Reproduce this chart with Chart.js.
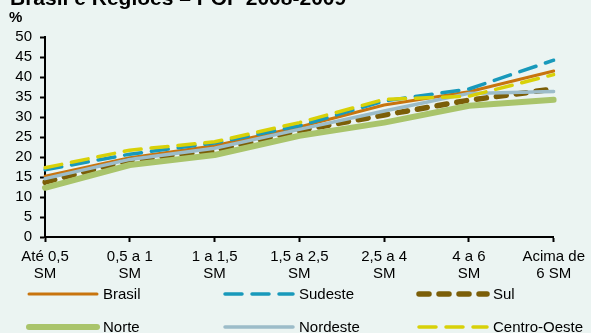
<!DOCTYPE html>
<html>
<head>
<meta charset="utf-8">
<script src="https://cdn.jsdelivr.net/npm/chart.js@4/dist/chart.umd.min.js"></script>
<style>
  html, body { margin: 0; padding: 0; background: #EBF4F2; }
  #wrap { width: 591px; height: 333px; position: relative; overflow: hidden; }
</style>
</head>
<body>
<div id="wrap"><canvas id="c" width="591" height="333"></canvas></div>
<script>
// Income brackets (multiples of the minimum wage)
const categories = [
  ['Até 0,5', 'SM'], ['0,5 a 1', 'SM'], ['1 a 1,5', 'SM'], ['1,5 a 2,5', 'SM'],
  ['2,5 a 4', 'SM'], ['4 a 6', 'SM'], ['Acima de', '6 SM']
];

// Share (%) per bracket
const brasil      = [15.2, 19.8, 22.8, 27.5, 33.0, 36.3, 41.5];
const sudeste     = [16.8, 20.7, 23.5, 27.8, 34.0, 37.0, 44.2];
const sul         = [13.7, 19.2, 21.5, 26.6, 30.5, 34.2, 37.0];
const norte       = [12.3, 18.0, 20.5, 25.3, 28.6, 32.8, 34.3];
const nordeste    = [14.6, 19.4, 22.2, 26.9, 31.5, 35.9, 36.4];
const centroOeste = [17.3, 21.7, 23.8, 28.6, 34.4, 35.2, 40.6];

const seriesNames = ['Brasil', 'Sudeste', 'Sul', 'Norte', 'Nordeste', 'Centro-Oeste'];
const yTicks = [0, 5, 10, 15, 20, 25, 30, 35, 40, 45, 50];

const titleText = 'Brasil e Regiões – POF 2008-2009';
const unitText = '%';

const FONT = '"Liberation Sans", Arial, sans-serif';

const styles = [
  { color: '#C8740E', width: 3,   dash: [],      cap: 'round' },
  { color: '#1899BB', width: 3.5, dash: [17, 10], cap: 'round' },
  { color: '#7B5E08', width: 5.5, dash: [10, 10], cap: 'round' },
  { color: '#A9C46B', width: 6,   dash: [],      cap: 'round' },
  { color: '#9CBCC9', width: 3.5, dash: [],      cap: 'round' },
  { color: '#D8D108', width: 3.5, dash: [17, 10], cap: 'round' }
];

const values = [brasil, sudeste, sul, norte, nordeste, centroOeste];

const datasets = seriesNames.map((name, i) => ({
  label: name,
  data: values[i],
  borderColor: styles[i].color,
  backgroundColor: styles[i].color,
  borderWidth: styles[i].width,
  borderDash: styles[i].dash,
  borderCapStyle: styles[i].cap,
  borderJoinStyle: 'round',
  pointRadius: 0,
  tension: 0,
  fill: false,
  // later series are painted over earlier ones
  order: seriesNames.length - i
}));

// Title, unit label and a three-column legend
const extras = {
  id: 'extras',
  afterDraw(chart) {
    const ctx = chart.ctx;
    ctx.save();
    ctx.fillStyle = '#000';
    ctx.textAlign = 'left';
    ctx.textBaseline = 'alphabetic';
    ctx.font = 'bold 21px ' + FONT;
    ctx.fillText(titleText, 10, 5);
    ctx.font = 'bold 15px ' + FONT;
    ctx.fillText(unitText, 9, 22);

    const colX = [27, 223, 417];
    const rowY = [294, 327];
    const sampleLen = 70;
    chart.data.datasets.forEach((ds, i) => {
      const x = colX[i % 3];
      const y = rowY[Math.floor(i / 3)];
      ctx.beginPath();
      ctx.strokeStyle = ds.borderColor;
      ctx.lineWidth = ds.borderWidth;
      ctx.lineCap = ds.borderCapStyle;
      ctx.setLineDash(ds.borderDash);
      ctx.moveTo(x + 2, y);
      ctx.lineTo(x + sampleLen, y);
      ctx.stroke();
      ctx.setLineDash([]);
      ctx.fillStyle = '#000';
      ctx.font = '15px ' + FONT;
      ctx.textBaseline = 'middle';
      ctx.fillText(ds.label, x + sampleLen + 6, y + 1);
    });
    ctx.restore();
  }
};

new Chart(document.getElementById('c'), {
  type: 'line',
  data: { labels: categories, datasets },
  options: {
    responsive: false,
    devicePixelRatio: 1,
    animation: false,
    layout: { padding: { top: 37, right: 35, left: 0, bottom: 0 } },
    plugins: { legend: { display: false }, tooltip: { enabled: false }, title: { display: false } },
    scales: {
      x: {
        type: 'category',
        offset: false,
        afterFit(scale) { scale.height = 96; },
        border: { display: true, color: '#000', width: 2 },
        grid: { display: true, drawOnChartArea: false, drawTicks: true, tickLength: 5, color: '#000', tickWidth: 2, offset: false },
        ticks: {
          autoSkip: false, maxRotation: 0, minRotation: 0, padding: 6,
          color: '#000', font: { family: FONT, size: 15, lineHeight: 1.15 }
        }
      },
      y: {
        min: 0, max: 50,
        afterFit(scale) { scale.width = 45; },
        afterBuildTicks(scale) { scale.ticks = yTicks.map(v => ({ value: v })); },
        border: { display: true, color: '#000', width: 2 },
        grid: { display: true, drawOnChartArea: false, drawTicks: true, tickLength: 5, color: '#000', tickWidth: 2 },
        ticks: {
          autoSkip: false, stepSize: 5, padding: 8, color: '#000', font: { family: FONT, size: 15 }
        }
      }
    }
  },
  plugins: [extras]
});
</script>
</body>
</html>
